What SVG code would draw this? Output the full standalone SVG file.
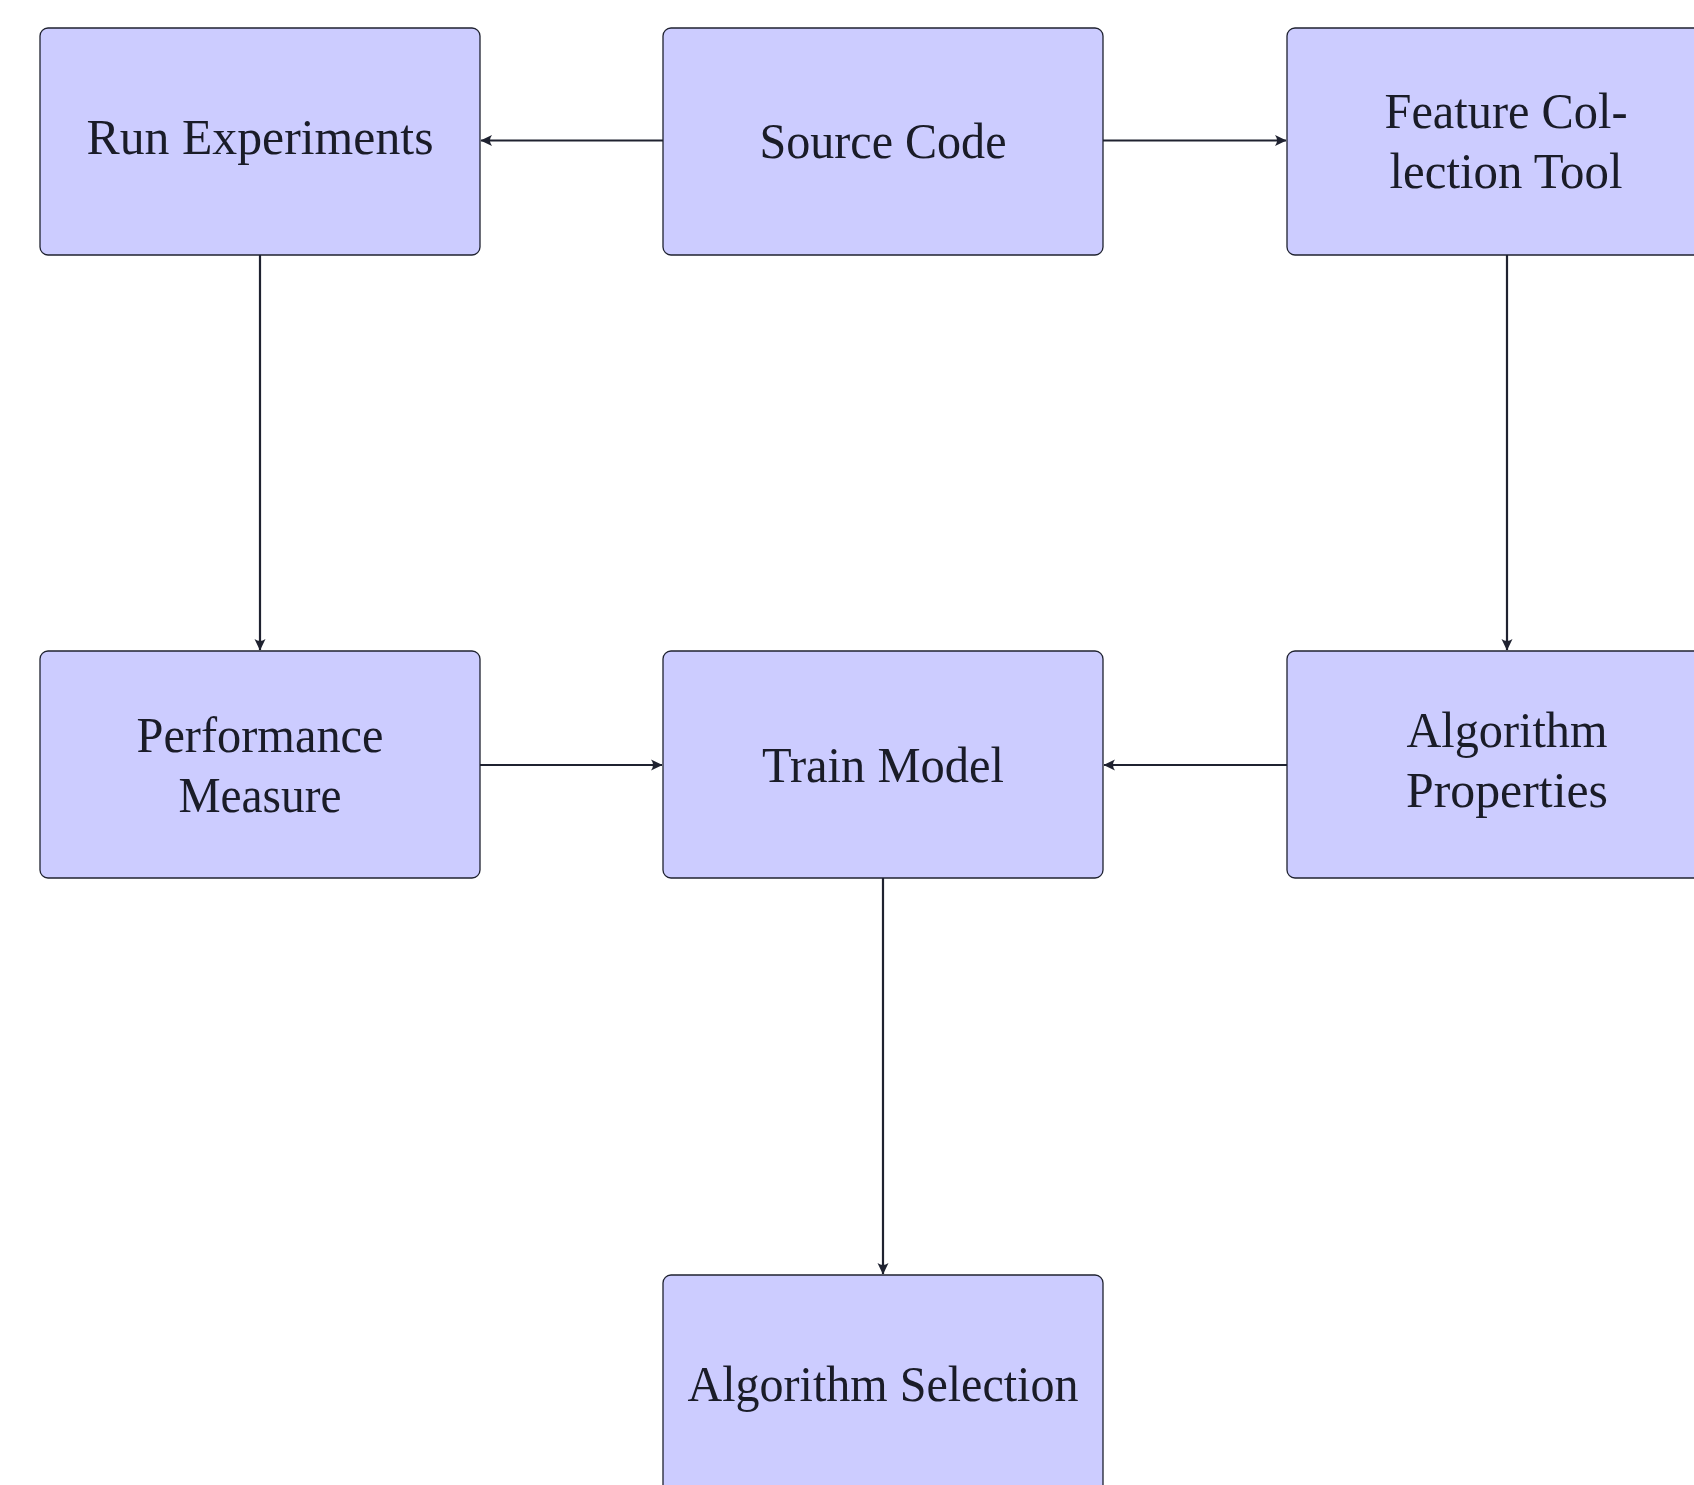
<svg xmlns="http://www.w3.org/2000/svg" width="1694" height="1485" viewBox="0 0 1694 1485">
<style>
.box{fill:#ccccff;stroke:#1f2230;stroke-width:1.3}
.lbl{font-family:"Liberation Serif","DejaVu Serif",serif;font-size:50px;fill:#1a1c28;text-anchor:middle}
.edge{stroke:#1f2230;stroke-width:2.2;fill:none;marker-end:url(#ah)}
</style>
<defs>
<marker id="ah" markerUnits="userSpaceOnUse" markerWidth="16" markerHeight="14" viewBox="-14 -7 16 14" refX="0" refY="0" orient="auto">
<path d="M0.5,0 L-11,-5.5 Q-7,0 -11,5.5 Z" fill="#1f2230"/>
</marker>
</defs>
<rect width="1694" height="1485" fill="#ffffff"/>
<g id="connectors">
<line class="edge" x1="663" y1="140.5" x2="481" y2="140.5"/>
<line class="edge" x1="1103" y1="140.5" x2="1286" y2="140.5"/>
<line class="edge" x1="260" y1="255" x2="260" y2="650"/>
<line class="edge" x1="1507" y1="255" x2="1507" y2="650"/>
<line class="edge" x1="480" y1="765" x2="662" y2="765"/>
<line class="edge" x1="1287" y1="765" x2="1104" y2="765"/>
<line class="edge" x1="883" y1="878" x2="883" y2="1274"/>
</g>
<g id="run-experiments">
<rect class="box" x="40" y="28" width="440" height="227" rx="8"/>
<text class="lbl" x="260" y="154" textLength="347" lengthAdjust="spacingAndGlyphs">Run Experiments</text>
</g>
<g id="source-code">
<rect class="box" x="663" y="28" width="440" height="227" rx="8"/>
<text class="lbl" x="883" y="158" textLength="247" lengthAdjust="spacingAndGlyphs">Source Code</text>
</g>
<g id="feature-collection-tool">
<rect class="box" x="1287" y="28" width="440" height="227" rx="8"/>
<text class="lbl" x="1506" y="128" textLength="243" lengthAdjust="spacingAndGlyphs">Feature Col-</text>
<text class="lbl" x="1506" y="188" textLength="233" lengthAdjust="spacingAndGlyphs">lection Tool</text>
</g>
<g id="performance-measure">
<rect class="box" x="40" y="651" width="440" height="227" rx="8"/>
<text class="lbl" x="260" y="752" textLength="247" lengthAdjust="spacingAndGlyphs">Performance</text>
<text class="lbl" x="260" y="812" textLength="163" lengthAdjust="spacingAndGlyphs">Measure</text>
</g>
<g id="train-model">
<rect class="box" x="663" y="651" width="440" height="227" rx="8"/>
<text class="lbl" x="883" y="782" textLength="242" lengthAdjust="spacingAndGlyphs">Train Model</text>
</g>
<g id="algorithm-properties">
<rect class="box" x="1287" y="651" width="440" height="227" rx="8"/>
<text class="lbl" x="1507" y="747" textLength="201" lengthAdjust="spacingAndGlyphs">Algorithm</text>
<text class="lbl" x="1507" y="807" textLength="202" lengthAdjust="spacingAndGlyphs">Properties</text>
</g>
<g id="algorithm-selection">
<rect class="box" x="663" y="1275" width="440" height="227" rx="8"/>
<text class="lbl" x="883" y="1401" textLength="391" lengthAdjust="spacingAndGlyphs">Algorithm Selection</text>
</g>
</svg>
